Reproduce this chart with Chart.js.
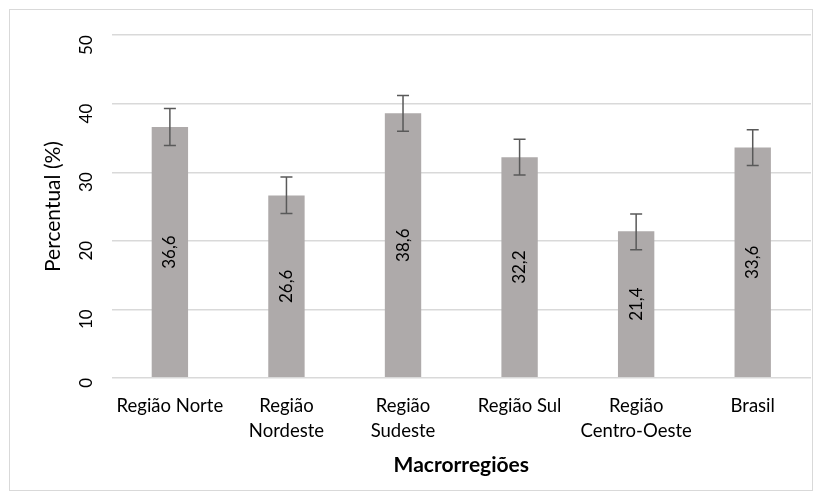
<!DOCTYPE html>
<html>
<head>
<meta charset="utf-8">
<script src="https://cdn.jsdelivr.net/npm/chart.js@4"></script>
<style>
  body { margin: 0; background: #fff; }
  .frame { position: absolute; left: 9px; top: 9px; width: 802px; height: 480px; border: 1px solid #d9d9d9; }
  #myChart { position: absolute; left: 0; top: 0; }
</style>
</head>
<body>
<div class="frame"></div>
<canvas id="myChart" width="822" height="500"></canvas>
<script>
const categories = ["Região Norte", ["Região", "Nordeste"], ["Região", "Sudeste"], "Região Sul", ["Região", "Centro-Oeste"], "Brasil"];
const percentages = [36.6, 26.6, 38.6, 32.2, 21.4, 33.6];
const lowerCI = [33.9, 24.0, 36.0, 29.6, 18.7, 31.0];
const upperCI = [39.3, 29.3, 41.2, 34.8, 23.9, 36.2];
const yTicks = [0, 10, 20, 30, 40, 50];

const FONT = "Lato, 'Open Sans', sans-serif";

// error bars + rotated value labels
const extras = {
  id: "extras",
  afterDatasetsDraw(chart) {
    const { ctx, scales } = chart;
    const meta = chart.getDatasetMeta(0);
    meta.data.forEach((bar, i) => {
      const x = bar.x;
      const yTop = scales.y.getPixelForValue(upperCI[i]);
      const yBot = scales.y.getPixelForValue(lowerCI[i]);
      ctx.save();
      ctx.strokeStyle = "#595959";
      ctx.lineWidth = 1.5;
      ctx.beginPath();
      ctx.moveTo(x, yTop); ctx.lineTo(x, yBot);
      ctx.moveTo(x - 6, yTop); ctx.lineTo(x + 6, yTop);
      ctx.moveTo(x - 6, yBot); ctx.lineTo(x + 6, yBot);
      ctx.stroke();

      // label in the middle of the bar
      const yMid = (bar.y + bar.base) / 2;
      ctx.translate(x, yMid);
      ctx.rotate(-Math.PI / 2);
      ctx.fillStyle = "#000";
      ctx.font = "17px " + FONT;
      ctx.textAlign = "center";
      ctx.textBaseline = "middle";
      ctx.fillText(percentages[i].toFixed(1).replace(".", ","), 0, 0);
      ctx.restore();
    });
  }
};

new Chart(document.getElementById("myChart"), {
  type: "bar",
  data: {
    labels: categories,
    datasets: [{
      data: percentages,
      backgroundColor: "#aeaaaa",
      barPercentage: 0.39,
      categoryPercentage: 0.8,
    }],
  },
  options: {
    responsive: false,
    animation: false,
    layout: { padding: { left: 41, right: 11, top: 24, bottom: 18 } },
    plugins: { legend: { display: false }, tooltip: { enabled: false } },
    scales: {
      x: {
        grid: { display: false, drawTicks: false },
        border: { display: false },
        ticks: { color: "#000", font: { family: FONT, size: 18.5, lineHeight: 1.35 }, padding: 16, maxRotation: 0 },
        title: { display: true, text: "Macrorregiões", color: "#000", font: { family: FONT, size: 21, weight: "bold" }, padding: { top: -7 } },
      },
      y: {
        min: 0,
        max: 50,
        afterBuildTicks(axis) { axis.ticks = yTicks.map(v => ({ value: v })); },
        grid: { color: "#d9d9d9", lineWidth: 1.5, drawTicks: false },
        border: { display: false },
        ticks: { color: "#000", font: { family: FONT, size: 17 }, padding: 25, minRotation: 90, maxRotation: 90 },
        title: { display: true, text: "Percentual (%)", color: "#000", font: { family: FONT, size: 21 }, padding: { top: 0, bottom: -25 } },
      },
    },
  },
  plugins: [extras],
});
</script>
</body>
</html>
